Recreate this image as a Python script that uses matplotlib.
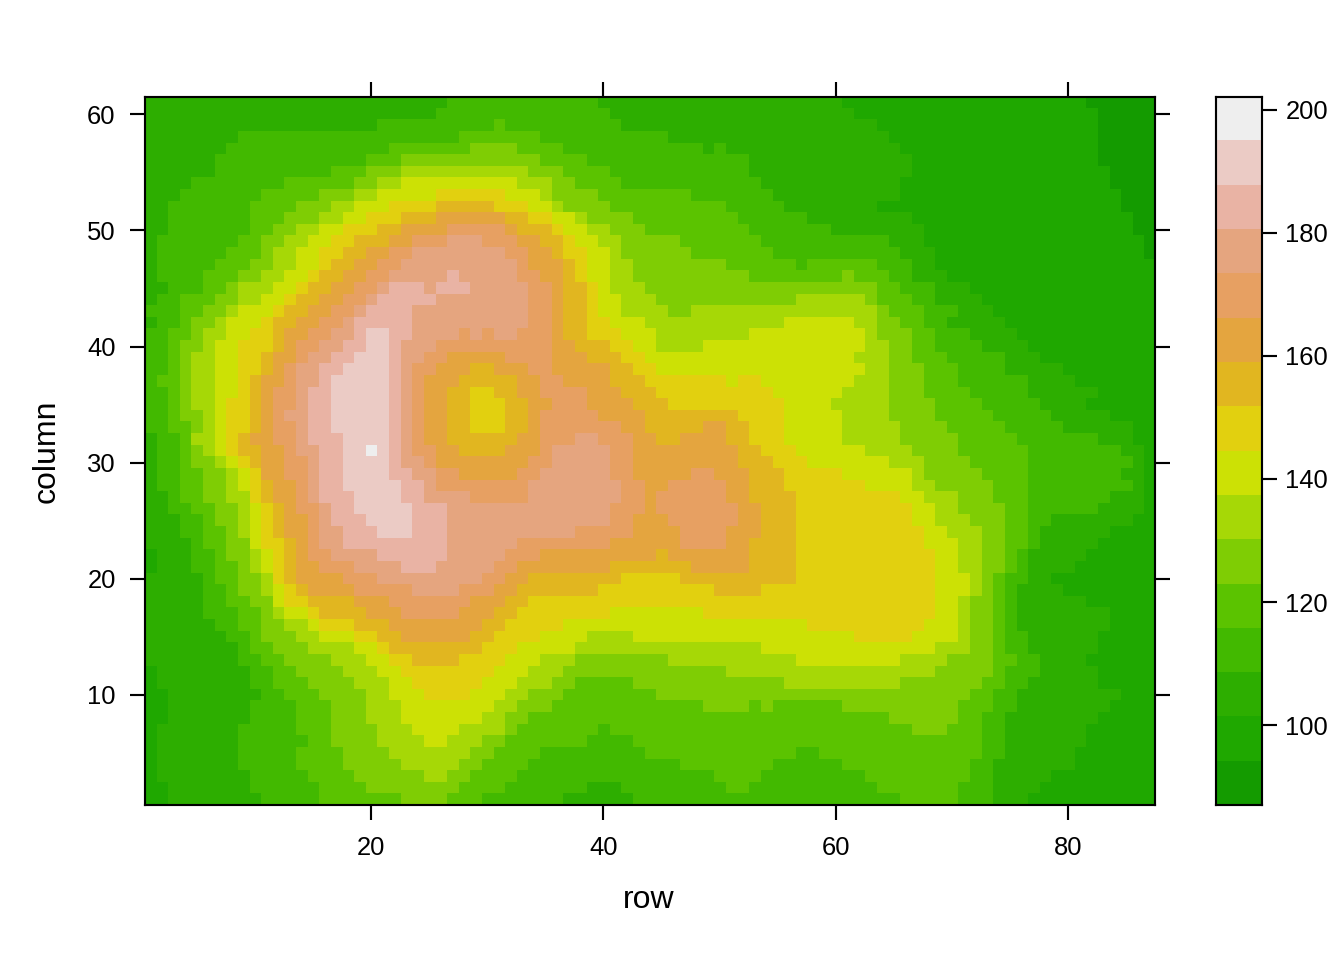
import numpy as np
import matplotlib
matplotlib.use("Agg")
import matplotlib.pyplot as plt
from matplotlib.colors import ListedColormap, BoundaryNorm

plt.rcParams['font.family'] = ['Liberation Sans', 'DejaVu Sans']

# elevation bands (16 bands of equal height)
BAND_COLORS = ['#149B00', '#1FA800', '#2DAE00', '#42B900', '#5BC300', '#7FCD04',
               '#A6D806', '#CCE105', '#E2D00F', '#E1B620', '#E4A53F', '#E7A062',
               '#E5A57F', '#E9B3A4', '#EBCBC5', '#EEEEEE']
LEVEL_LOW = 87.0
LEVEL_HIGH = 202.1
x_ticks = [20, 40, 60, 80]
y_ticks = [10, 20, 30, 40, 50, 60]
key_ticks = [100, 120, 140, 160, 180, 200]
x_label = "row"
y_label = "column"

# Each line is one value of "column", from 61 down to 1.
# Each entry band:end = this band holds up to "row" number end.
RUNS = """
2:26 3:39 2:60 1:81 0:87
2:25 3:40 2:61 1:82 0:87
2:20 3:30 4:31 3:41 2:63 1:82 0:87
2:8 3:27 4:34 3:45 2:64 1:82 0:87
2:7 3:21 4:28 5:32 4:36 3:48 2:49 3:50 2:65 1:82 0:87
2:6 3:19 4:22 5:34 4:38 3:52 2:66 1:82 0:87
2:6 3:16 4:19 5:22 6:33 5:36 4:40 3:52 2:66 1:83 0:87
2:4 3:12 4:18 5:20 6:22 7:32 6:35 5:37 4:41 3:53 2:65 1:83 0:87
2:3 3:10 4:15 5:18 6:20 7:25 8:31 7:34 6:35 5:39 4:47 3:54 2:65 1:84 0:87
2:2 3:9 4:13 5:16 6:18 7:21 8:25 9:30 8:33 7:35 6:36 5:40 4:50 3:55 2:63 1:84 0:87
2:2 3:9 4:12 5:15 6:17 7:19 8:22 9:25 10:31 9:33 8:35 7:37 6:38 5:42 4:51 3:57 2:66 1:85 0:87
2:2 3:9 4:11 5:13 6:15 7:17 8:20 9:22 10:26 11:31 10:32 9:35 8:36 7:38 6:40 5:43 4:52 3:59 2:67 1:85 0:87
2:1 3:8 4:10 5:12 6:14 7:16 8:18 9:21 10:23 11:26 12:29 11:32 10:34 9:36 8:37 7:39 6:41 5:46 4:53 3:64 2:67 1:86 0:87
2:1 3:7 4:10 5:11 6:13 7:15 8:17 9:19 10:21 11:23 12:31 11:33 10:35 9:36 8:38 7:40 6:41 5:47 4:54 3:65 2:68 1:86 0:87
2:1 3:6 4:9 5:11 6:13 7:15 8:16 9:18 10:20 11:22 12:32 11:33 10:36 9:37 8:38 7:40 6:42 5:50 4:56 3:57 4:63 3:66 2:68 1:87
2:1 3:5 4:8 5:10 6:12 7:14 8:15 9:17 10:19 11:21 12:26 13:27 12:32 11:34 10:36 9:37 8:38 7:40 6:42 5:52 4:60 5:61 4:64 3:66 2:69 1:87
2:2 3:5 4:7 5:8 6:11 7:13 8:14 9:16 10:18 11:20 12:21 13:24 12:25 13:28 12:33 11:35 10:36 9:38 8:39 7:40 6:43 5:63 4:65 3:68 2:71 1:87
2:1 3:3 4:6 5:8 6:10 7:12 8:13 9:15 10:17 11:19 12:20 13:25 12:33 11:35 10:36 9:38 8:39 7:41 6:44 5:56 6:62 5:63 4:66 3:68 2:72 1:87
3:3 4:5 5:7 6:8 7:11 8:12 9:14 10:16 11:18 12:19 13:23 12:33 11:35 10:36 9:38 8:39 7:41 6:45 5:47 6:63 5:64 4:67 3:70 2:73 1:87
2:1 3:3 4:4 5:6 6:7 7:10 8:11 9:13 10:15 11:17 12:18 13:23 12:33 11:35 10:36 9:38 8:40 7:43 6:55 7:61 6:63 5:65 4:67 3:69 2:74 1:87
3:2 4:4 5:5 6:7 7:9 8:11 9:12 10:14 11:16 12:18 13:19 14:21 13:23 12:27 11:28 12:29 11:30 12:32 11:35 10:36 9:38 8:41 7:44 6:52 7:62 6:63 5:66 4:68 3:71 2:75 1:87
3:2 4:3 5:5 6:6 7:8 8:11 9:12 10:13 11:15 12:17 13:19 14:21 13:22 12:25 11:35 10:37 9:40 8:42 7:44 6:48 7:62 6:64 5:66 4:68 3:72 2:76 1:87
3:2 4:3 5:4 6:6 7:8 8:10 9:11 10:13 11:14 12:16 13:18 14:21 13:22 12:24 11:26 10:31 11:35 10:38 9:41 8:43 7:61 6:64 5:66 4:69 3:74 2:77 1:87
3:2 4:3 5:4 6:6 7:8 8:10 9:11 10:12 11:13 12:15 13:17 14:21 13:22 12:23 11:25 10:28 9:30 10:33 11:35 10:40 9:42 8:44 7:62 6:64 5:67 4:70 3:74 2:79 1:87
3:1 4:3 5:4 6:6 7:8 8:9 9:10 10:12 11:13 12:15 13:16 14:21 13:22 12:23 11:24 10:27 9:32 10:34 11:36 10:40 9:43 8:50 7:51 8:53 7:61 6:64 5:67 4:70 3:76 2:80 1:87
3:2 4:3 5:4 6:6 7:8 8:9 9:10 10:11 11:13 12:14 13:16 14:21 13:22 12:23 11:24 10:26 9:28 8:30 9:32 10:34 11:38 10:41 9:44 8:54 7:60 6:64 5:67 4:71 3:76 2:82 1:87
3:2 4:3 5:4 6:6 7:7 8:9 9:10 10:11 11:13 12:14 13:16 14:21 13:22 12:23 11:24 10:26 9:28 8:31 9:33 10:35 11:38 10:42 9:45 8:55 7:59 6:64 5:68 4:72 3:77 2:81 1:87
3:2 4:3 5:5 6:6 7:7 8:9 9:10 10:11 11:12 12:14 13:16 14:21 13:22 12:23 11:24 10:26 9:28 8:31 9:33 10:34 11:39 10:43 9:51 8:55 7:60 6:64 5:68 4:73 3:78 2:83 1:87
3:2 4:4 5:5 6:6 7:7 8:9 9:10 10:11 11:13 12:14 13:16 14:21 13:22 12:23 11:24 10:26 9:28 8:31 9:33 10:34 11:41 10:43 9:48 10:50 9:52 8:55 7:60 6:65 5:69 4:74 3:79 2:85 1:87
2:1 3:3 4:4 6:6 7:7 8:8 9:9 10:11 11:13 12:14 13:17 14:21 13:22 12:23 11:24 10:26 9:32 10:34 11:37 12:39 11:42 10:44 9:46 10:50 9:52 8:55 7:60 6:65 5:70 4:75 3:82 2:85 1:87
2:1 3:3 4:4 5:5 6:6 7:7 8:8 9:10 10:12 11:13 12:15 13:17 14:19 15:20 14:21 13:22 12:23 11:25 10:27 9:31 10:34 11:35 12:40 11:42 10:51 9:53 8:56 7:62 6:66 5:70 4:76 3:84 2:86 1:87
2:1 3:3 4:4 5:6 6:7 7:8 8:9 9:10 10:12 11:14 12:15 13:17 14:21 13:22 12:24 11:25 10:33 11:35 12:40 11:42 10:51 9:54 8:57 7:64 6:67 5:71 4:76 3:85 2:86 1:87
2:1 3:3 4:5 5:7 6:8 7:9 8:10 10:12 11:14 12:15 13:17 14:21 13:23 12:25 11:27 10:32 11:34 12:40 11:42 10:47 11:49 10:52 9:55 8:60 7:66 6:67 5:72 4:76 3:84 2:86 1:87
2:1 3:3 4:5 5:7 6:8 7:9 8:10 9:11 10:13 11:14 12:15 13:17 14:22 13:24 12:25 11:33 12:41 11:43 10:45 11:50 10:52 9:55 8:62 7:66 6:68 5:73 4:76 3:85 2:86 1:87
2:2 3:3 4:5 5:7 6:9 8:10 9:11 10:13 11:14 12:15 13:18 14:22 13:24 12:28 11:33 12:41 11:43 10:44 11:50 10:52 9:56 8:65 7:67 6:70 5:73 4:76 3:83 2:86 1:87
2:2 3:4 4:6 5:8 6:9 7:10 8:11 9:12 10:13 11:15 12:16 13:18 14:23 13:26 12:40 11:43 10:44 11:51 10:53 9:56 8:66 7:68 6:70 5:74 4:76 3:82 2:86 1:87
2:3 3:5 4:6 5:8 6:9 7:10 8:11 9:12 10:14 11:15 12:16 13:19 14:23 13:26 12:40 11:42 10:45 11:51 10:53 9:56 8:66 7:68 6:71 5:74 4:76 3:78 2:85 1:87
2:3 3:5 4:7 5:8 6:9 7:10 8:11 9:12 10:14 11:15 12:17 13:20 14:23 13:26 12:37 11:42 10:46 11:50 10:53 9:56 8:67 7:69 6:72 5:74 4:76 3:77 2:83 1:87
2:4 3:5 4:7 5:9 7:10 8:12 9:13 10:14 11:15 12:17 13:26 12:32 11:40 10:46 11:50 10:52 9:56 8:67 7:70 6:72 5:74 4:76 3:77 2:82 1:87
1:1 2:4 3:6 4:7 5:9 6:10 7:11 8:12 9:13 10:14 11:16 12:20 13:26 12:31 11:34 10:44 9:45 10:52 9:56 8:68 7:70 6:72 5:74 4:75 3:76 2:81 1:87
1:1 2:4 3:6 4:8 5:9 6:10 7:11 8:12 9:13 10:15 11:18 12:22 13:25 12:30 11:32 10:40 9:47 10:52 9:56 8:68 7:70 6:72 5:74 4:75 3:76 2:80 1:87
2:5 3:6 4:8 5:10 6:11 8:12 9:13 10:17 11:20 12:29 11:31 10:33 9:41 8:46 9:56 8:68 7:71 6:72 5:73 4:74 3:76 2:78 1:87
2:5 3:7 4:8 5:10 6:11 7:12 8:13 9:14 10:18 11:23 12:27 11:30 10:32 9:39 8:49 9:53 8:68 7:71 6:72 5:73 4:74 3:75 2:79 1:87
2:5 3:7 4:9 5:11 7:12 8:14 9:18 10:21 11:28 10:31 9:33 8:68 7:70 6:71 5:73 4:74 3:75 2:81 1:87
2:5 3:8 4:10 5:11 6:12 7:14 8:15 9:19 10:22 11:27 10:30 9:32 8:40 7:48 8:68 7:70 6:71 5:73 4:74 3:75 2:83 1:87
2:6 3:8 4:10 5:12 6:14 7:15 8:18 9:21 10:29 9:31 8:36 7:57 8:67 7:70 6:71 5:73 4:74 3:75 2:83 1:87
2:7 3:9 4:10 5:13 6:15 7:18 8:20 9:22 10:28 9:30 8:34 7:38 6:42 7:61 8:66 7:70 6:71 5:73 4:74 3:76 2:82 1:87
2:8 3:9 4:11 5:14 6:18 7:20 8:21 9:29 8:32 7:37 6:53 7:68 6:71 5:73 4:74 3:76 2:82 1:87
2:8 3:10 4:12 5:16 6:19 7:21 8:23 9:27 8:31 7:34 6:37 5:45 6:56 7:65 6:69 5:73 4:75 3:77 2:81 1:87
1:1 2:9 3:11 4:13 5:17 6:20 7:22 8:30 7:33 6:36 5:50 6:68 5:73 4:74 3:77 2:82 1:87
1:1 2:9 3:11 4:14 5:18 6:21 7:23 8:29 7:32 6:35 5:37 4:42 5:55 6:65 5:72 4:74 3:76 2:82 1:87
1:2 2:10 3:12 4:15 5:19 6:21 7:24 8:28 7:31 6:33 5:36 4:44 5:71 4:73 3:75 2:84 1:87
1:2 2:9 3:13 4:16 5:19 6:22 7:30 6:32 5:35 4:48 5:52 4:53 5:54 4:60 5:70 4:73 3:75 2:83 1:87
1:2 2:9 3:13 4:16 5:19 6:22 7:29 6:31 5:33 4:64 5:70 4:72 3:74 2:82 1:87
1:1 2:8 3:13 4:16 5:20 6:23 7:27 6:31 5:32 4:39 3:40 4:66 5:69 4:72 3:74 2:81 1:87
1:1 2:8 3:14 4:16 5:20 6:24 7:26 6:29 5:31 4:38 3:42 4:72 3:74 2:81 1:87
1:1 2:8 3:13 4:17 5:21 6:28 5:30 4:34 3:43 4:56 3:58 4:72 3:74 2:80 1:87
1:1 2:8 3:13 4:17 5:22 6:27 5:29 4:33 3:46 4:54 3:60 4:71 3:73 2:80 1:87
1:1 2:9 3:14 4:18 5:24 6:26 5:28 4:32 3:49 4:53 3:62 4:71 3:73 2:78 1:87
1:2 2:9 3:15 4:19 5:27 4:31 3:38 2:41 3:50 4:52 3:63 4:70 3:73 2:77 1:87
1:2 2:10 3:15 4:22 5:26 4:29 3:36 2:42 3:65 4:70 3:73 2:76 1:87
"""

edges = np.linspace(LEVEL_LOW, LEVEL_HIGH, len(BAND_COLORS) + 1)
mids = 0.5 * (edges[:-1] + edges[1:])


def decode(text):
    rows = []
    for line in text.strip().splitlines():
        values = []
        for run in line.split():
            band, end = run.split(':')
            values.extend([mids[int(band)]] * (int(end) - len(values)))
        rows.append(values)
    return np.array(rows[::-1])


elevation = decode(RUNS)
cmap = ListedColormap(BAND_COLORS)
norm = BoundaryNorm(edges, cmap.N)

W, H = 1344, 960
fig = plt.figure(figsize=(W / 192, H / 192), dpi=192, facecolor='white')


def px_axes(left, top, right, bottom):
    return fig.add_axes([left / W, 1 - bottom / H, (right - left) / W, (bottom - top) / H])


LW = 0.8
TICK = 5.6
ax = px_axes(144.5, 97, 1155, 805)
ax.imshow(elevation, origin='lower', aspect='auto', cmap=cmap, norm=norm,
          interpolation='nearest', extent=(0.5, elevation.shape[1] + 0.5, 0.5, elevation.shape[0] + 0.5))
ax.set_xticks(x_ticks)
ax.set_yticks(y_ticks)
ax.tick_params(axis='x', which='major', direction='out', length=TICK, width=LW,
               top=True, labelsize=9.6, pad=6.0, color='black')
ax.tick_params(axis='y', which='major', direction='out', length=TICK, width=LW,
               right=True, labelsize=9.6, pad=5.2, color='black')
for s in ax.spines.values():
    s.set_linewidth(LW)

cax = px_axes(1216, 97, 1262, 805)
cax.imshow(mids[:, None], origin='lower', aspect='auto', cmap=cmap, norm=norm,
           interpolation='nearest', extent=(0, 1, LEVEL_LOW, LEVEL_HIGH))
cax.set_xticks([])
cax.set_yticks(key_ticks)
cax.yaxis.tick_right()
cax.tick_params(axis='y', direction='out', length=TICK, width=LW, labelsize=9.6, pad=3.2)
for s in cax.spines.values():
    s.set_linewidth(LW)

fig.text(649 / W, 1 - 900.5 / H, x_label, ha='center', va='center', fontsize=12)
fig.text(47 / W, 1 - 451 / H, y_label, ha='center', va='center', rotation=90, fontsize=12)

fig.savefig('out.png', dpi=192, facecolor='white')
